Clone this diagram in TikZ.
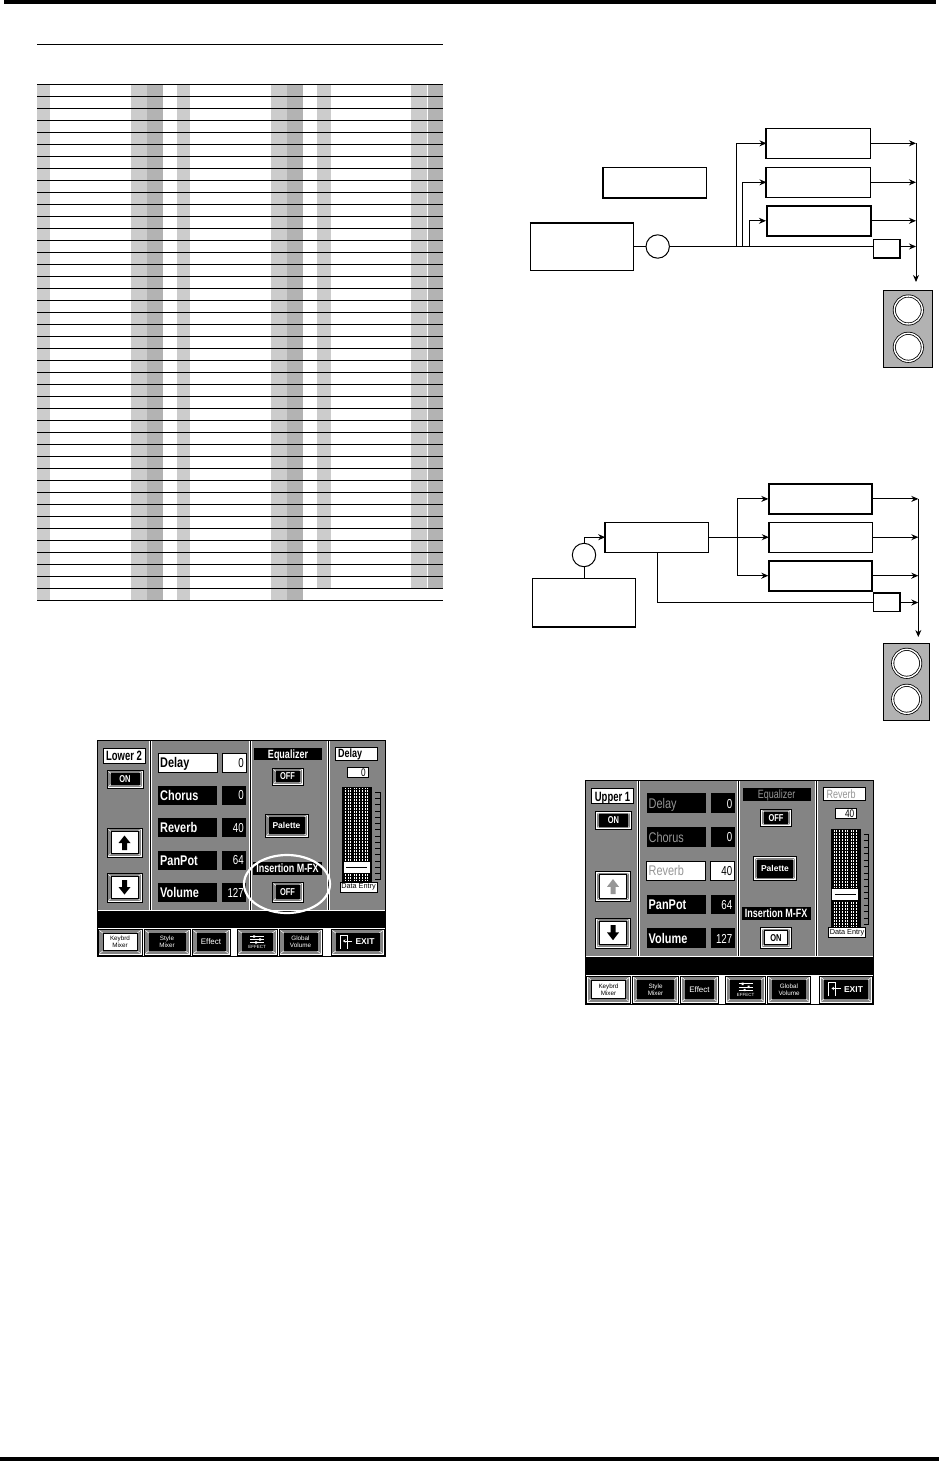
\documentclass[tikz,border=0pt]{standalone}
\usepackage{fontspec}
\setmainfont{Liberation Sans}
\newfontfamily\lcdf[FakeStretch=0.75]{Liberation Sans}
\newfontfamily\lcdm[FakeStretch=0.78]{Liberation Sans}
\newfontfamily\lcdn[FakeStretch=0.7]{Liberation Sans}
\usetikzlibrary{arrows.meta}
\definecolor{lg}{RGB}{204,204,204}
\definecolor{dg}{RGB}{179,179,179}
\definecolor{spk}{RGB}{178,178,178}
\definecolor{gtx}{RGB}{150,150,150}
\definecolor{dthc}{RGB}{132,132,132}
\tikzset{
  dith/.style={fill=dthc},
  fbox/.style={draw, line width=1pt, inner sep=0pt, fill=white},
  tbox/.style={fbox, line width=2pt},
  arr/.style={-{Stealth[length=7pt,width=6pt]}, line width=0.9pt},
  ln/.style={line width=0.9pt},
  ring/.style={circle, draw, line width=0.8pt, double=white, double distance=1.4pt, fill=white, inner sep=0pt, minimum size=28pt},
  tx/.style={inner sep=0pt},
  lb/.style={tx, font=\lcdm\bfseries\fontsize{14}{14}\selectfont},
  lg2/.style={tx, font=\lcdm\fontsize{14}{14}\selectfont},
  lbs/.style={tx, font=\lcdf\bfseries\fontsize{12}{12}\selectfont},
  lr/.style={tx, font=\lcdf\fontsize{13}{13}\selectfont},
  lrs/.style={tx, font=\lcdf\fontsize{11}{11}\selectfont},
  bw/.style={text=white, font=\lcdf\bfseries\fontsize{10}{10}\selectfont},
  bk/.style={text=black, font=\lcdf\bfseries\fontsize{10}{10}\selectfont},
  sm/.style={font=\fontsize{6.3}{6.6}\selectfont},
}
% [inset]{name}{x1}{y1}{x2}{y2}{inner fill}{node options}{text}
\newcommand\lcdbtn[9][4]{%
  \fill[white] (#3,#4) rectangle (#5,#6);
  \fill[dith] (#3+1.4,#4+1.4) rectangle (#5-1.4,#6-1.4);
  \draw[line width=0.8pt] (#3,#4) rectangle (#5,#6);
  \draw[white, line width=0.5pt] (#3+1.4,#4+1.4) -- (#3+#1,#4+#1*0.85) (#5-1.4,#4+1.4) -- (#5-#1,#4+#1*0.85) (#3+1.4,#6-1.4) -- (#3+#1,#6-#1*0.85) (#5-1.4,#6-1.4) -- (#5-#1,#6-#1*0.85);
  \filldraw[fill=#7, draw=black, line width=0.6pt] (#3+#1,#4+#1*0.85) rectangle (#5-#1,#6-#1*0.85);
  \node[inner sep=0pt, align=center, #8] (#2) at ({(#3+#5)/2},{(#4+#6)/2}) {#9};
}
\newcommand\lcdframe[1]{%
  \fill[white] (0,0) rectangle (288,216);
  \fill[dith] (0,0) rectangle (288,170);
  \fill (0,170.5) rectangle (288,188);
  \draw[white, line width=1pt] (0,170) -- (288,170);
  \foreach \sx in {53,153,231} {\draw[white, line width=3pt] (\sx,0) -- (\sx,170); \draw[line width=0.9pt] (\sx,0) -- (\sx,170);}
  \lcdbtn[5]{#1kb}{1}{189}{45}{215}{white}{sm, text=black}{Keybrd\\Mixer}
  \lcdbtn[5]{#1sm}{47}{189}{93}{215}{black}{sm, text=white}{Style\\Mixer}
  \lcdbtn[5]{#1ef}{95}{189}{133}{215}{black}{text=white, font=\fontsize{8}{8}\selectfont}{Effect}
  \lcdbtn[5]{#1eq}{140}{189}{180}{215}{black}{}{}
  \draw[white, line width=0.6pt] (153,196.5) -- (167,196.5) (153,199.5) -- (167,199.5) (153,202.5) -- (167,202.5);
  \fill[white] (156,195.3) rectangle (158,197.7) (162,198.3) rectangle (164,200.7) (158,201.3) rectangle (160,203.7);
  \node[tx, text=white, font=\fontsize{4.5}{4.5}\selectfont] (#1eqt) at (160,207.3) {EFFECT};
  \lcdbtn[5]{#1gv}{182}{189}{225}{215}{black}{sm, text=white}{Global\\Volume}
  \lcdbtn[5]{#1ex}{234}{189}{287}{215}{black}{}{}
  \draw[white, line width=0.8pt] (243,208.5) -- (243,195.5) -- (250,195.5) -- (250,208.5);
  \draw[white, line width=0.8pt, -{Stealth[length=2.5pt,width=3.5pt]}] (255,201) -- (246,201);
  \node[tx, text=white, font=\bfseries\fontsize{8.5}{8.5}\selectfont] (#1ext) at (268,202) {EXIT};
  \draw[line width=1pt] (0,0) rectangle (288,216);
}
\newcommand\lcdslider[2]{% name, knob top
  \fill (245,47) rectangle (275,142);
  \foreach \xx in {248.5,251,253.5,257,259.5,262,265.5,268,270.5}
    \draw[white, line width=0.5pt, dash pattern=on 0.5pt off 1pt] (\xx,48) -- (\xx,141);
  \draw[line width=0.5pt] (283,52) -- (283,140);
  \foreach \t in {0,...,14} \draw[line width=0.5pt] (278,52+6.25*\t) -- (283,52+6.25*\t);
  \filldraw[fill=white, line width=0.7pt] (246,#2) rectangle (273,#2+12);
  \draw[line width=0.5pt] (249,#2+6) -- (270,#2+6);
  \filldraw[fill=white, line width=0.6pt] (243,142) rectangle (280,152);
  \node[tx, font=\fontsize{7.3}{7.3}\selectfont] (#1) at (261.5,147.2) {Data Entry};
}
\begin{document}
\begin{tikzpicture}[x=1pt,y=-1pt]
\useasboundingbox (0,0) rectangle (939,1461);
\fill[white] (0,0) rectangle (939,1461);
% page rules
\fill (4,0) rectangle (936,4.3);
\fill (0,1457) rectangle (939,1461);

% ---------------- table ----------------
\draw[line width=1pt] (37,44.3) -- (443,44.3);
\fill[lg] (37,84.3) rectangle (50,600.3);
\fill[lg] (131,84.3) rectangle (147,600.3);
\fill[dg] (147,84.3) rectangle (163,600.3);
\fill[lg] (177,84.3) rectangle (190,600.3);
\fill[lg] (271,84.3) rectangle (287,600.3);
\fill[dg] (287,84.3) rectangle (303,600.3);
\fill[lg] (317,84.3) rectangle (331,588.3);
\fill[lg] (411,84.3) rectangle (427,588.3);
\fill[dg] (428,84.3) rectangle (443.3,588.3);
\foreach \i in {0,...,43} \draw[line width=1pt] (37,84.3+12*\i) -- (443,84.3+12*\i);

% ---------------- diagram 1 ----------------
\node[fbox, minimum width=103.4pt, minimum height=47pt] (srcA) at (582,246.8) {};
\draw[line width=2pt] (srcA.north west) -- (srcA.north east);
\node[fbox, minimum width=103pt, minimum height=30pt] (lblB) at (654.8,182.3) {};
\draw[line width=2pt] (lblB.north west) -- (lblB.south west) -- (lblB.south east);
\node[circle, draw, line width=1pt, fill=white, minimum size=23.4pt, inner sep=0pt] (circ1) at (657.7,246.5) {};
\node[fbox, minimum width=103.7pt, minimum height=30pt] (b1) at (818.8,143.3) {};
\draw[line width=2pt] (b1.north west) -- (b1.south west);
\node[fbox, minimum width=103.7pt, minimum height=30pt] (b2) at (818.8,182.3) {};
\draw[line width=2pt] (b2.north west) -- (b2.south west);
\node[tbox, minimum width=103.7pt, minimum height=30pt] (b3) at (818.8,220.8) {};
\node[fbox, minimum width=26pt, minimum height=17.7pt] (sb1) at (886.3,248.2) {};
\draw[line width=2pt] (sb1.north east) -- (sb1.south east) -- (sb1.south west);
\coordinate (j1a) at (736,246.5);
\coordinate (j1b) at (742.7,246.5);
\coordinate (j1c) at (749.3,246.5);
\coordinate (bus1top) at (916,143.3);
\coordinate (bus1bot) at (916,282);
\draw[ln] (srcA.east |- circ1.west) -- (circ1.west);
\draw[ln] (circ1.east) -- (circ1.east -| sb1.west);
\draw[arr] (j1a) |- (b1.west);
\draw[arr] (j1b) |- (b2.west);
\draw[arr] (j1c) |- (b3.west);
\draw[arr] (b1.east) -- (b1.east -| bus1top);
\draw[arr] (b2.east) -- (b2.east -| bus1top);
\draw[arr] (b3.east) -- (b3.east -| bus1top);
\draw[arr] (sb1.east |- circ1.east) -- (bus1top |- circ1.east);
\draw[arr] (bus1top) -- (bus1bot);
\node[draw, fill=spk, line width=0.8pt, inner sep=0pt, minimum width=48.7pt, minimum height=77.4pt] (spk1) at (907.7,329) {};
\node[ring] (spk1a) at (908.3,310) {};
\node[ring] (spk1b) at (908.3,347.3) {};

% ---------------- diagram 2 ----------------
\node[fbox, minimum width=103pt, minimum height=47.7pt] (src2) at (583.8,602.2) {};
\draw[line width=2pt] (src2.south west) -- (src2.south east);
\node[circle, draw, line width=1pt, fill=white, minimum size=23.4pt, inner sep=0pt] (circ2) at (584,555) {};
\node[fbox, minimum width=102.6pt, minimum height=29.7pt] (P) at (657,537.2) {};
\draw[line width=2pt] (P.north west) -- (P.south west);
\node[tbox, minimum width=103pt, minimum height=29.7pt] (c1) at (820.8,498.9) {};
\node[fbox, minimum width=103pt, minimum height=29.7pt] (c2) at (820.8,537.2) {};
\draw[line width=2pt] (c2.north west) -- (c2.south west);
\node[tbox, minimum width=103pt, minimum height=30pt] (c3) at (820.8,575.7) {};
\node[fbox, minimum width=26pt, minimum height=17.6pt] (sb2) at (886.3,602.5) {};
\draw[line width=2pt] (sb2.north west) -- (sb2.north east) -- (sb2.south east);
\coordinate (j2) at (737.3,537.2);
\coordinate (bus2top) at (918.3,498.9);
\coordinate (bus2bot) at (918.3,637);
\draw[ln] (src2.north -| circ2.south) -- (circ2.south);
\draw[arr] (circ2.north) |- (P.west);
\draw[ln] (P.east) -- (j2);
\draw[arr] (j2) |- (c1.west);
\draw[arr] (j2) -- (c2.west);
\draw[arr] (j2) |- (c3.west);
\draw[ln] (P.south) |- (sb2.west);
\draw[arr] (c1.east) -- (c1.east -| bus2top);
\draw[arr] (c2.east) -- (c2.east -| bus2top);
\draw[arr] (c3.east) -- (c3.east -| bus2top);
\draw[arr] (sb2.east) -- (sb2.east -| bus2top);
\draw[arr] (bus2top) -- (bus2bot);
\node[draw, fill=spk, line width=0.8pt, inner sep=0pt, minimum width=46.7pt, minimum height=76.7pt] (spk2) at (906.3,681.7) {};
\node[ring] (spk2a) at (906.7,663.3) {};
\node[ring] (spk2b) at (906.7,699.3) {};

% ---------------- screen 1 ----------------
\begin{scope}[shift={(97,740)}]
\lcdframe{sa}
\filldraw[fill=white, line width=0.8pt] (6,8) rectangle (48,23);
\node[tx, font=\lcdn\bfseries\fontsize{13.5}{13.5}\selectfont, anchor=base] (saname) at (27,20.4) {Lower 2};
\lcdbtn{saon}{10}{30}{46}{48}{black}{bw}{ON}
\lcdbtn{saup}{10}{88}{45}{117}{white}{}{}
\fill (21.5,103) -- (27.5,95.5) -- (33.5,103) -- (30,103) -- (30,110) -- (25,110) -- (25,103) -- cycle;
\lcdbtn{sadn}{10}{133}{45}{162}{white}{}{}
\fill (21.5,147) -- (27.5,154.5) -- (33.5,147) -- (30,147) -- (30,140) -- (25,140) -- (25,147) -- cycle;
% mixer rows
\filldraw[fill=white, line width=0.6pt] (61,13) rectangle (120,32);
\node[lb, anchor=base west] (sadl) at (63,27.5) {Delay};
\filldraw[fill=white, line width=0.6pt] (125,13) rectangle (149,32);
\node[lr, anchor=base east] (sadv) at (147,27.2) {0};
\fill (61,45.5) rectangle (120,64.5); \fill (125,45.5) rectangle (149,64.5);
\node[lb, anchor=base west, text=white] (sacl) at (63,60) {Chorus};
\node[lr, anchor=base east, text=white] (sacv) at (147,59.7) {0};
\fill (61,78) rectangle (120,97); \fill (125,78) rectangle (149,97);
\node[lb, anchor=base west, text=white] (sarl) at (63,92.5) {Reverb};
\node[lr, anchor=base east, text=white] (sarv) at (147,92.2) {40};
\fill (61,110.5) rectangle (120,129.5); \fill (125,110.5) rectangle (149,129.5);
\node[lb, anchor=base west, text=white] (sapl) at (63,125) {PanPot};
\node[lr, anchor=base east, text=white] (sapv) at (147,124.7) {64};
\fill (61,143) rectangle (120,162); \fill (125,143) rectangle (149,162);
\node[lb, anchor=base west, text=white] (savl) at (63,157.5) {Volume};
\node[lr, anchor=base east, text=white] (savv) at (147,157.2) {127};
% effects panel
\fill (157,8) rectangle (225,20);
\node[lbs, anchor=base, text=white] (saeql) at (191,18.3) {Equalizer};
\lcdbtn{saeqb}{175}{28}{206}{45}{black}{bw}{OFF}
\lcdbtn{sapal}{168}{74}{211}{97}{black}{text=white, font=\bfseries\fontsize{8.5}{8.5}\selectfont}{Palette}
\fill (156,122) rectangle (225,135);
\node[lbs, anchor=base, text=white] (saifl) at (190.5,132.8) {Insertion M-FX};
\lcdbtn{saifb}{175}{142}{206}{162}{black}{bw}{OFF}
\draw[white, line width=2.2pt] (190,144) ellipse [x radius=43, y radius=29];
% data entry panel
\filldraw[fill=white, line width=0.6pt] (238,7) rectangle (280,20);
\node[lbs, anchor=base west] (saral) at (241,17.8) {Delay};
\filldraw[fill=white, line width=0.6pt] (250,27) rectangle (271,37);
\node[lrs, anchor=base east] (sarav) at (269,36) {0};
\lcdslider{sade}{121}
\end{scope}

% ---------------- screen 2 ----------------
\begin{scope}[shift={(585.5,780)}, yscale=1.037]
\lcdframe{sb}
\filldraw[fill=white, line width=0.8pt] (6,8) rectangle (48,23);
\node[tx, font=\lcdn\bfseries\fontsize{13.5}{13.5}\selectfont, anchor=base] (sbname) at (27,20.4) {Upper 1};
\lcdbtn{sbon}{10}{30}{46}{48}{black}{bw}{ON}
\lcdbtn{sbup}{10}{88}{45}{117}{white}{}{}
\fill[gtx] (21.5,103) -- (27.5,95.5) -- (33.5,103) -- (30,103) -- (30,110) -- (25,110) -- (25,103) -- cycle;
\lcdbtn{sbdn}{10}{133}{45}{162}{white}{}{}
\fill (21.5,147) -- (27.5,154.5) -- (33.5,147) -- (30,147) -- (30,140) -- (25,140) -- (25,147) -- cycle;
\fill (61,13) rectangle (120,32); \fill (125,13) rectangle (149,32);
\node[lg2, anchor=base west, text=gtx] (sbdl) at (63,27.5) {Delay};
\node[lr, anchor=base east, text=white] (sbdv) at (147,27.2) {0};
\fill (61,45.5) rectangle (120,64.5); \fill (125,45.5) rectangle (149,64.5);
\node[lg2, anchor=base west, text=gtx] (sbcl) at (63,60) {Chorus};
\node[lr, anchor=base east, text=white] (sbcv) at (147,59.7) {0};
\filldraw[fill=white, line width=0.6pt] (61,78) rectangle (120,97);
\filldraw[fill=white, line width=0.6pt] (125,78) rectangle (149,97);
\node[lg2, anchor=base west, text=gtx] (sbrl) at (63,92.5) {Reverb};
\node[lr, anchor=base east] (sbrv) at (147,92.2) {40};
\fill (61,110.5) rectangle (120,129.5); \fill (125,110.5) rectangle (149,129.5);
\node[lb, anchor=base west, text=white] (sbpl) at (63,125) {PanPot};
\node[lr, anchor=base east, text=white] (sbpv) at (147,124.7) {64};
\fill (61,143) rectangle (120,162); \fill (125,143) rectangle (149,162);
\node[lb, anchor=base west, text=white] (sbvl) at (63,157.5) {Volume};
\node[lr, anchor=base east, text=white] (sbvv) at (147,157.2) {127};
\fill (157,8) rectangle (225,20);
\node[tx, font=\lcdf\fontsize{12}{12}\selectfont, anchor=base, text=gtx] (sbeql) at (191,18.3) {Equalizer};
\lcdbtn{sbeqb}{175}{28}{206}{45}{black}{bw}{OFF}
\lcdbtn{sbpal}{168}{74}{211}{97}{black}{text=white, font=\bfseries\fontsize{8.5}{8.5}\selectfont}{Palette}
\fill (156,122) rectangle (225,135);
\node[lbs, anchor=base, text=white] (sbifl) at (190.5,132.8) {Insertion M-FX};
\lcdbtn{sbifb}{175}{142}{206}{162}{white}{bk}{ON}
\filldraw[fill=white, line width=0.6pt] (238,7) rectangle (280,20);
\node[tx, font=\lcdf\fontsize{12}{12}\selectfont, anchor=base west, text=gtx] (sbral) at (241,17.8) {Reverb};
\filldraw[fill=white, line width=0.6pt] (250,27) rectangle (271,37);
\node[lrs, anchor=base east] (sbrav) at (269,36) {40};
\lcdslider{sbde}{104}
\end{scope}
\end{tikzpicture}
\end{document}
